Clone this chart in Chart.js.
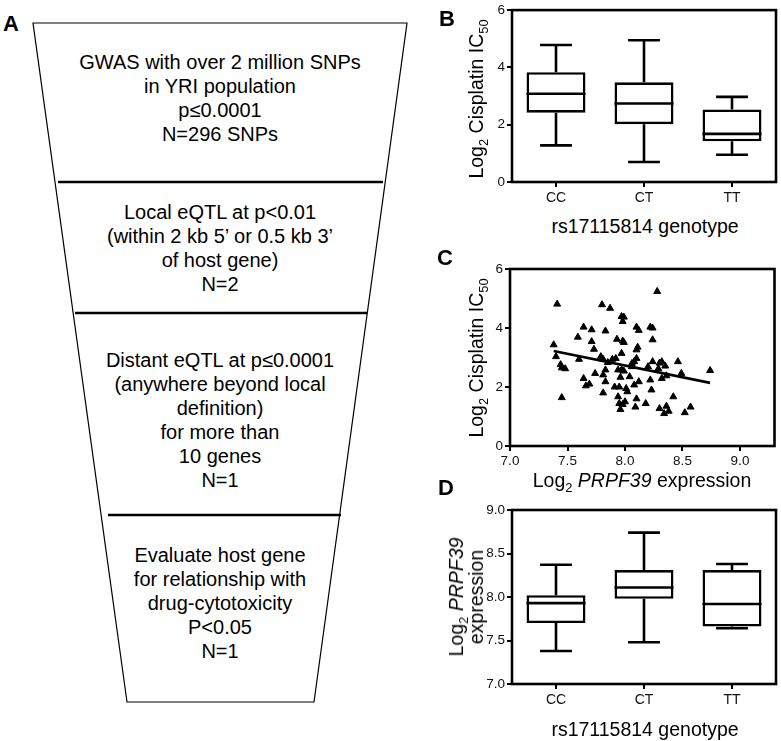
<!DOCTYPE html>
<html>
<head>
<meta charset="utf-8">
<script src="https://cdn.jsdelivr.net/npm/chart.js@4.4.1/dist/chart.umd.min.js"></script>
<style>
  html, body { margin: 0; padding: 0; background: #fff; }
  #page { position: relative; width: 781px; height: 741px; overflow: hidden;
          font-family: 'Liberation Sans', Arial, sans-serif; color: #000; }
  canvas { position: absolute; }
  .lbl { position: absolute; white-space: nowrap; font-size: 19.5px; line-height: 1;
         transform: translate(-50%, -50%); text-align: center; }
  .rot { transform: translate(-50%, -50%) rotate(-90deg); }
  .panel { position: absolute; font-weight: bold; font-size: 22px; line-height: 1;
           transform: translate(-50%, -50%); }
  sub { font-size: 0.66em; vertical-align: -0.35em; line-height: 0; }
</style>
</head>
<body>
<div id="page">
  <svg id="funnel" width="430" height="741" style="position:absolute;left:0;top:0"></svg>
  <canvas id="chartB" width="351" height="210" style="left:430px;top:0px"></canvas>
  <canvas id="chartC" width="351" height="230" style="left:430px;top:240px"></canvas>
  <canvas id="chartD" width="351" height="230" style="left:430px;top:490px"></canvas>

  <div class="panel" style="left:11px;top:24px">A</div>
  <div class="panel" style="left:447px;top:19px">B</div>
  <div class="panel" style="left:445px;top:258px">C</div>
  <div class="panel" style="left:446px;top:488px">D</div>

  <div class="lbl rot" style="left:477px;top:99px">Log<sub>2</sub> Cisplatin IC<sub>50</sub></div>
  <div class="lbl" style="left:645px;top:227px">rs17115814 genotype</div>
  <div class="lbl rot" style="left:477px;top:358px">Log<sub>2</sub> Cisplatin IC<sub>50</sub></div>
  <div class="lbl" style="left:642px;top:481px">Log<sub>2</sub> <i>PRPF39</i> expression</div>
  <div class="lbl rot" style="left:466px;top:597px;line-height:20px">Log<sub>2</sub> <i>PRPF39</i><br>expression</div>
  <div class="lbl" style="left:645px;top:730px">rs17115814 genotype</div>
</div>

<script>
const FONT = "'Liberation Sans', Arial, sans-serif";

// ----- dados -----
const genotypes = ['CC', 'CT', 'TT'];

// B: Log2 cisplatin IC50 por genótipo (box: min, Q1, mediana, Q3, max)
const icMin = [1.28, 0.70, 0.95];
const icQ1  = [2.42, 2.02, 1.42];
const icMed = [3.08, 2.74, 1.68];
const icQ3  = [3.83, 3.48, 2.53];
const icMax = [4.78, 4.95, 2.97];

// D: Log2 PRPF39 expressão por genótipo
const exMin = [7.38, 7.48, 7.64];
const exQ1  = [7.70, 7.98, 7.66];
const exMed = [7.93, 8.11, 7.92];
const exQ3  = [8.02, 8.31, 8.31];
const exMax = [8.37, 8.74, 8.38];

// C: expressão vs IC50
const exprX = [7.38, 7.41, 7.40, 7.44, 7.45, 7.48, 7.45, 7.59, 7.60, 7.64, 7.64, 7.66, 7.69, 7.71, 7.71,
  7.73, 7.74, 7.80, 7.87, 7.83, 7.79, 7.81, 7.81, 7.83, 7.83, 7.81, 7.85, 7.89, 7.91, 7.93, 7.92, 7.94,
  7.96, 7.95, 7.94, 7.95, 7.97, 7.99, 7.98, 7.97, 7.98, 7.99, 7.97, 7.99, 7.96, 7.98, 8.00, 8.01, 8.02,
  8.04, 8.06, 8.06, 8.08, 8.08, 8.09, 8.10, 8.10, 8.10, 8.11, 8.10, 8.12, 8.12, 8.18, 8.20, 8.22, 8.23,
  8.22, 8.24, 8.24, 8.24, 8.28, 8.29, 8.30, 8.32, 8.30, 8.32, 8.34, 8.36, 8.35, 8.36, 8.38, 8.42, 8.46,
  8.49, 8.52, 8.57, 8.74];
const cisY = [3.43, 4.81, 3.03, 2.76, 2.65, 2.62, 1.64, 3.69, 2.94, 4.03, 2.29, 2.04, 2.10, 3.94, 3.54,
  3.28, 2.46, 4.79, 4.67, 3.90, 3.03, 2.94, 2.41, 2.58, 2.18, 1.80, 2.83, 2.94, 2.00, 3.62, 2.97, 2.58,
  2.33, 2.00, 1.67, 1.44, 4.39, 4.37, 4.22, 3.14, 3.56, 3.51, 2.58, 2.54, 1.24, 1.41, 1.50, 1.95, 1.84,
  2.35, 2.80, 2.69, 2.86, 2.07, 1.32, 1.60, 2.97, 3.26, 3.35, 4.03, 3.92, 2.18, 1.44, 2.69, 2.24, 1.90,
  4.03, 4.00, 3.60, 2.86, 5.24, 2.62, 2.81, 2.86, 1.27, 2.29, 1.10, 1.35, 2.71, 2.38, 1.18, 1.67, 2.86,
  2.46, 1.13, 1.32, 2.56];
const fitX = [7.38, 8.74];
const fitY = [3.22, 2.14];

const icTicks = [0, 2, 4, 6];
const exprTicks = [7.0, 7.5, 8.0, 8.5, 9.0];

// A: funil
const funnelBlocks = [
  ['GWAS with over 2 million SNPs', 'in YRI population', 'p\u22640.0001', 'N=296 SNPs'],
  ['Local eQTL at p<0.01', '(within 2 kb 5\u2019 or 0.5 kb 3\u2019', 'of host gene)', 'N=2'],
  ['Distant eQTL at p\u22640.0001', '(anywhere beyond local', 'definition)', 'for more than', '10 genes', 'N=1'],
  ['Evaluate host gene', 'for relationship with', 'drug-cytotoxicity', 'P<0.05', 'N=1'],
];

// ----- painel A -----
(function drawFunnel() {
  const svg = document.getElementById('funnel');
  const NS = 'http://www.w3.org/2000/svg';
  const add = (tag, attrs, text) => {
    const el = document.createElementNS(NS, tag);
    Object.entries(attrs).forEach(([k, v]) => el.setAttribute(k, v));
    if (text) el.textContent = text;
    svg.appendChild(el);
    return el;
  };
  add('polygon', { points: '33,23 407,23 314,702 127,702', fill: '#fff', stroke: '#000', 'stroke-width': 1.2 });
  [[182, 58, 383], [313, 75, 367], [515, 108, 341]].forEach(([y, x1, x2]) =>
    add('line', { x1, x2, y1: y, y2: y, stroke: '#000', 'stroke-width': 2.6 }));
  const starts = [61.5, 212, 360, 555];
  funnelBlocks.forEach((lines, b) => {
    lines.forEach((t, i) => add('text', {
      x: 220, y: starts[b] + i * 24, 'text-anchor': 'middle', 'dominant-baseline': 'central',
      'font-family': FONT, 'font-size': 20, fill: '#000',
    }, t));
  });
})();

// ----- plugins -----
const framePlugin = {
  id: 'frame',
  afterDraw(chart) {
    const a = chart.chartArea, ctx = chart.ctx;
    ctx.save();
    ctx.strokeStyle = '#000';
    ctx.lineWidth = 2.6;
    ctx.strokeRect(a.left, a.top, a.right - a.left, a.bottom - a.top);
    ctx.restore();
  },
};

const whiskerPlugin = {
  id: 'whiskers',
  afterDatasetsDraw(chart) {
    const ds = chart.data.datasets[0];
    if (!ds.stats) return;
    const meta = chart.getDatasetMeta(0);
    const y = chart.scales.y;
    const ctx = chart.ctx;
    ctx.save();
    ctx.strokeStyle = '#000';
    ctx.lineWidth = 2.6;
    meta.data.forEach((bar, i) => {
      const s = ds.stats;
      const x = bar.x, half = bar.width / 2, cap = bar.width * 0.27;
      const pMin = y.getPixelForValue(s.min[i]);
      const pMax = y.getPixelForValue(s.max[i]);
      const pQ1 = y.getPixelForValue(ds.data[i][0]);
      const pQ3 = y.getPixelForValue(ds.data[i][1]);
      const pMed = y.getPixelForValue(s.med[i]);
      ctx.beginPath();
      ctx.moveTo(x, pQ1); ctx.lineTo(x, pMin);
      ctx.moveTo(x - cap, pMin); ctx.lineTo(x + cap, pMin);
      ctx.moveTo(x, pQ3); ctx.lineTo(x, pMax);
      ctx.moveTo(x - cap, pMax); ctx.lineTo(x + cap, pMax);
      ctx.moveTo(x - half, pMed); ctx.lineTo(x + half, pMed);
      ctx.stroke();
    });
    ctx.restore();
  },
};

function axis(extra) {
  return {
    grid: { drawOnChartArea: false, drawTicks: true, tickLength: 5, color: '#000', lineWidth: 2 },
    border: { display: false },
    ...extra,
    ticks: { color: '#111', font: { family: FONT, size: 13.5 }, padding: 2, ...(extra.ticks || {}) },
  };
}

const BASE = {
  responsive: false,
  animation: false,
  devicePixelRatio: 1,
  plugins: { legend: { display: false }, tooltip: { enabled: false } },
};

function boxChart(canvasId, mins, q1s, meds, q3s, maxs, yMin, yMax, yTicks, pad, yWidth, xHeight, fmt) {
  const ctx = document.getElementById(canvasId).getContext('2d');
  return new Chart(ctx, {
    type: 'bar',
    data: {
      labels: genotypes,
      datasets: [{
        data: genotypes.map((g, i) => [q1s[i], q3s[i]]),
        backgroundColor: '#fff',
        borderColor: '#000',
        borderWidth: 2.6,
        borderSkipped: false,
        barPercentage: 0.67,
        categoryPercentage: 1,
        stats: { min: mins, med: meds, max: maxs },
      }],
    },
    options: {
      ...BASE,
      layout: { padding: pad },
      scales: {
        x: axis({
          offset: true,
          grid: { drawOnChartArea: false, drawTicks: true, tickLength: 5, color: '#000', lineWidth: 2, offset: false },
          ticks: { font: { family: FONT, size: 14 }, padding: 3 },
          afterFit: (s) => { s.height = xHeight; },
        }),
        y: axis({
          min: yMin, max: yMax,
          afterBuildTicks: (s) => { s.ticks = yTicks.map(v => ({ value: v })); },
          ticks: { callback: fmt },
          afterFit: (s) => { s.width = yWidth; },
        }),
      },
    },
    plugins: [whiskerPlugin, framePlugin],
  });
}

// ----- painel B -----
boxChart('chartB', icMin, icQ1, icMed, icQ3, icMax, 0, 6, icTicks,
  { top: 6, right: 5, left: 0, bottom: 0 }, 82, 28, (v) => v);

// ----- painel D -----
boxChart('chartD', exMin, exQ1, exMed, exQ3, exMax, 7, 9, exprTicks,
  { top: 20, right: 5, left: 0, bottom: 0 }, 82, 36, (v) => v.toFixed(1));

// ----- painel C -----
new Chart(document.getElementById('chartC').getContext('2d'), {
  type: 'scatter',
  data: {
    datasets: [
      {
        data: exprX.map((x, i) => ({ x, y: cisY[i] })),
        pointStyle: 'triangle',
        pointRadius: 4,
        backgroundColor: '#000',
        borderColor: '#000',
        borderWidth: 1,
      },
      {
        type: 'line',
        data: fitX.map((x, i) => ({ x, y: fitY[i] })),
        borderColor: '#000',
        borderWidth: 2.6,
        pointRadius: 0,
        fill: false,
      },
    ],
  },
  options: {
    ...BASE,
    layout: { padding: { top: 29, right: 6.5, left: 0, bottom: 0 } },
    scales: {
      x: axis({
        type: 'linear', min: 7, max: 9.3,
        afterBuildTicks: (s) => { s.ticks = exprTicks.map(v => ({ value: v })); },
        ticks: { callback: (v) => v.toFixed(1), padding: 2 },
        afterFit: (s) => { s.height = 24; },
      }),
      y: axis({
        min: 0, max: 6,
        afterBuildTicks: (s) => { s.ticks = icTicks.map(v => ({ value: v })); },
        afterFit: (s) => { s.width = 80; },
      }),
    },
  },
  plugins: [framePlugin],
});
</script>
</body>
</html>
